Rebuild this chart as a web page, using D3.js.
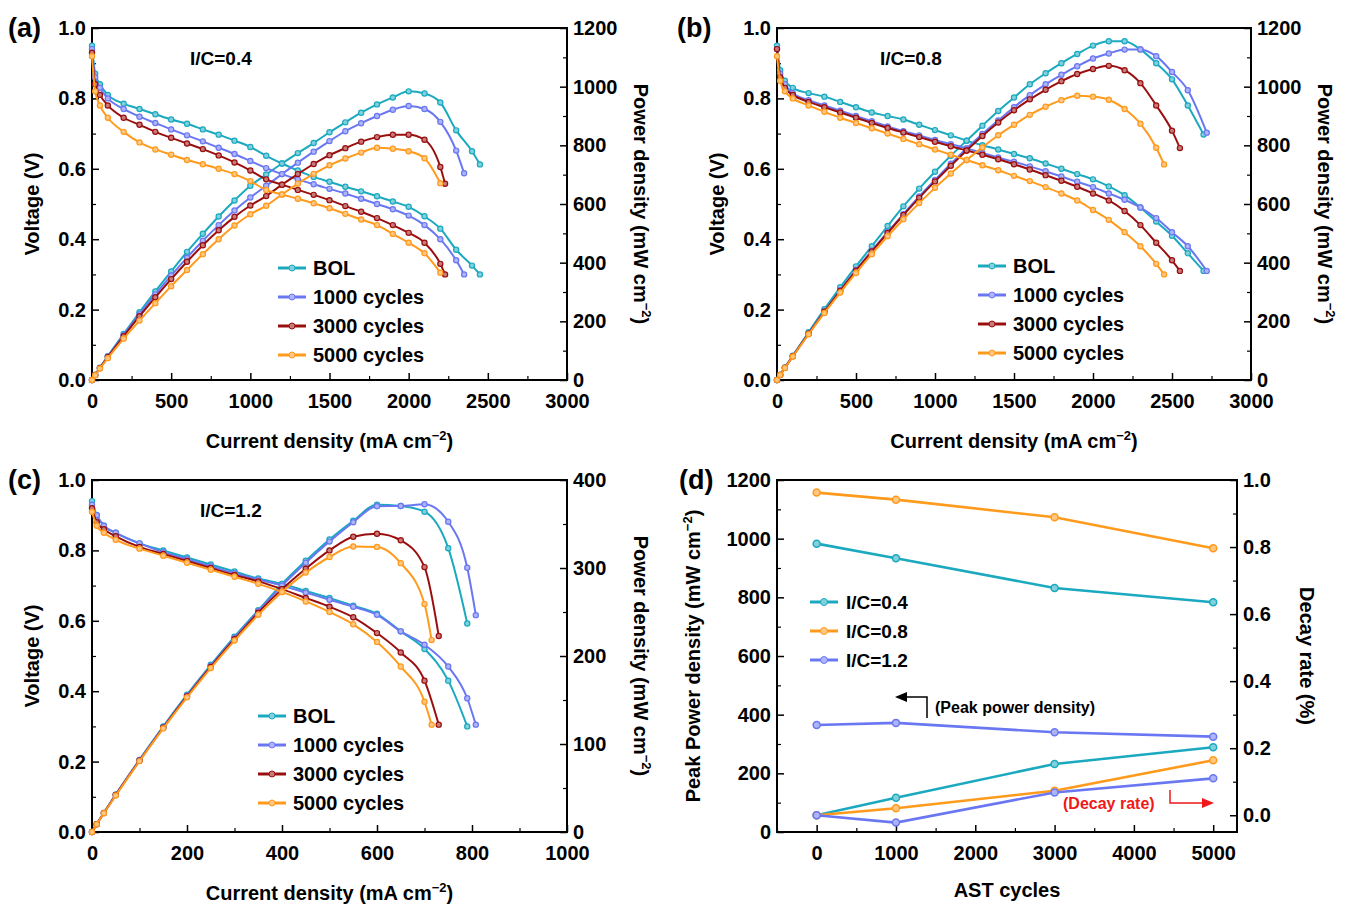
<!DOCTYPE html>
<html><head><meta charset="utf-8">
<script src="https://cdn.jsdelivr.net/npm/d3@7"></script>
<style>body{margin:0;background:#fff}svg{font-family:"Liberation Sans",Arial,sans-serif;font-weight:bold}</style>
</head><body><svg id="fig" width="1349" height="915"></svg>
<script>
// ---- data: [current density mA cm-2, voltage V]; power = I*V
var series = ["BOL", "1000 cycles", "3000 cycles", "5000 cycles"]
var colors = ["#1aa9bf", "#6a77f2", "#9a0e0e", "#ff9a1c"]

var polA = [
  [[0,0.95],[20,0.87],[50,0.84],[100,0.81],[200,0.785],[300,0.77],[400,0.755],[500,0.74],[600,0.728],[700,0.712],[800,0.697],[900,0.68],[1000,0.662],[1100,0.637],[1200,0.615],[1300,0.595],[1400,0.577],[1500,0.563],[1600,0.549],[1700,0.536],[1800,0.522],[1900,0.507],[2000,0.492],[2100,0.465],[2200,0.43],[2300,0.37],[2400,0.325],[2450,0.30]],
  [[0,0.94],[20,0.86],[50,0.83],[100,0.8],[200,0.77],[300,0.748],[400,0.73],[500,0.712],[600,0.695],[700,0.678],[800,0.66],[900,0.642],[1000,0.622],[1100,0.602],[1200,0.585],[1300,0.57],[1400,0.556],[1500,0.543],[1600,0.53],[1700,0.515],[1800,0.5],[1900,0.485],[2000,0.467],[2100,0.44],[2200,0.4],[2300,0.34],[2350,0.30]],
  [[0,0.93],[20,0.84],[50,0.81],[100,0.78],[200,0.745],[300,0.725],[400,0.705],[500,0.688],[600,0.672],[700,0.656],[800,0.638],[900,0.618],[1000,0.595],[1100,0.57],[1200,0.555],[1300,0.54],[1400,0.526],[1500,0.511],[1600,0.494],[1700,0.478],[1800,0.46],[1900,0.44],[2000,0.418],[2100,0.39],[2200,0.33],[2230,0.30]],
  [[0,0.92],[20,0.82],[50,0.78],[100,0.745],[200,0.705],[300,0.675],[400,0.655],[500,0.64],[600,0.625],[700,0.613],[800,0.6],[900,0.585],[1000,0.565],[1100,0.54],[1200,0.527],[1300,0.515],[1400,0.502],[1500,0.488],[1600,0.472],[1700,0.456],[1800,0.44],[1900,0.415],[2000,0.39],[2100,0.36],[2200,0.305]]
]
var polB = [
  [[0,0.95],[20,0.88],[50,0.85],[100,0.83],[200,0.815],[300,0.805],[400,0.79],[500,0.775],[600,0.76],[700,0.75],[800,0.74],[900,0.725],[1000,0.71],[1100,0.695],[1200,0.68],[1300,0.667],[1400,0.655],[1500,0.642],[1600,0.63],[1700,0.615],[1800,0.6],[1900,0.585],[2000,0.57],[2100,0.55],[2200,0.525],[2300,0.49],[2400,0.45],[2500,0.41],[2600,0.36],[2700,0.31]],
  [[0,0.94],[20,0.87],[50,0.84],[100,0.815],[200,0.795],[300,0.78],[400,0.765],[500,0.75],[600,0.735],[700,0.72],[800,0.707],[900,0.695],[1000,0.682],[1100,0.67],[1200,0.658],[1300,0.645],[1400,0.632],[1500,0.62],[1600,0.607],[1700,0.593],[1800,0.578],[1900,0.563],[2000,0.548],[2100,0.53],[2200,0.512],[2300,0.49],[2400,0.46],[2500,0.42],[2600,0.38],[2720,0.31]],
  [[0,0.94],[20,0.86],[50,0.83],[100,0.81],[200,0.79],[300,0.775],[400,0.76],[500,0.745],[600,0.73],[700,0.716],[800,0.703],[900,0.69],[1000,0.677],[1100,0.664],[1200,0.652],[1300,0.64],[1400,0.627],[1500,0.613],[1600,0.598],[1700,0.582],[1800,0.566],[1900,0.549],[2000,0.53],[2100,0.51],[2200,0.48],[2300,0.44],[2400,0.39],[2500,0.34],[2550,0.31]],
  [[0,0.92],[20,0.85],[50,0.82],[100,0.8],[200,0.78],[300,0.762],[400,0.745],[500,0.73],[600,0.715],[700,0.7],[800,0.685],[900,0.67],[1000,0.655],[1100,0.64],[1200,0.625],[1300,0.61],[1400,0.596],[1500,0.58],[1600,0.565],[1700,0.548],[1800,0.53],[1900,0.51],[2000,0.483],[2100,0.455],[2200,0.42],[2300,0.38],[2400,0.33],[2450,0.30]]
]
var polC = [
  [[0,0.94],[10,0.9],[25,0.87],[50,0.85],[100,0.82],[150,0.8],[200,0.78],[250,0.76],[300,0.74],[350,0.72],[400,0.705],[450,0.685],[500,0.665],[550,0.643],[600,0.62],[650,0.57],[700,0.52],[750,0.43],[790,0.30]],
  [[0,0.93],[10,0.9],[25,0.87],[50,0.85],[100,0.82],[150,0.795],[200,0.775],[250,0.755],[300,0.735],[350,0.717],[400,0.7],[450,0.68],[500,0.66],[550,0.64],[600,0.617],[650,0.57],[700,0.532],[750,0.47],[790,0.38],[808,0.305]],
  [[0,0.92],[10,0.88],[25,0.86],[50,0.84],[100,0.81],[150,0.79],[200,0.77],[250,0.75],[300,0.73],[350,0.712],[400,0.69],[450,0.665],[500,0.64],[550,0.61],[600,0.565],[650,0.51],[700,0.43],[730,0.305]],
  [[0,0.91],[10,0.87],[25,0.85],[50,0.83],[100,0.805],[150,0.785],[200,0.765],[250,0.745],[300,0.725],[350,0.705],[400,0.682],[450,0.655],[500,0.625],[550,0.59],[600,0.54],[650,0.47],[700,0.37],[715,0.305]]
]
// panel d
var astCycles = [0, 1000, 3000, 5000]
var icNames = ["I/C=0.4", "I/C=0.8", "I/C=1.2"]
var icColors = ["#1aa9bf", "#ff9a1c", "#6a77f2"]
var peakPower = [[983, 933, 832, 783], [1157, 1133, 1073, 967], [365, 372, 340, 325]]
var decayRate = [[0, 0.052, 0.153, 0.203], [0, 0.021, 0.073, 0.164], [0, -0.022, 0.068, 0.11]]

var svg = d3.select("#fig")

function supLabel(g, text, x, y, rot) {
  var t = g.append("text").attr("font-size", 20).attr("text-anchor", "middle")
    .attr("transform", "translate(" + x + "," + y + ")" + (rot ? " rotate(" + rot + ")" : ""))
  t.append("tspan").text(text)
  t.append("tspan").attr("font-size", 13).attr("dy", -8).text("−2")
  t.append("tspan").attr("dy", 8).text(")")
  return t
}

function frame(o) {
  var g = svg.append("g")
  var x = d3.scaleLinear().domain(o.xd).range([o.x0, o.x1])
  var yl = d3.scaleLinear().domain(o.yld).range([o.y1, o.y0])
  var yr = d3.scaleLinear().domain(o.yrd).range([o.y1, o.y0])
  function ax(gen, minor, tr, pad) {
    var a = g.append("g").attr("transform", tr).call(gen.tickSizeInner(-7).tickSizeOuter(0).tickPadding(pad))
    a.select(".domain").remove()
    a.selectAll("text").attr("font-size", 20).attr("font-weight", "bold").attr("font-family", "Liberation Sans, Arial")
    a.selectAll("line").attr("stroke-width", 1.5)
    g.append("g").attr("transform", tr).call(minor.tickSizeInner(-4).tickSizeOuter(0).tickFormat(""))
      .call(s => { s.select(".domain").remove(); s.selectAll("line").attr("stroke-width", 1.2) })
  }
  ax(d3.axisBottom(x).tickValues(o.xt).tickFormat(o.xf || d3.format("d")), d3.axisBottom(x).tickValues(o.xm), "translate(0," + o.y1 + ")", 14)
  ax(d3.axisLeft(yl).tickValues(o.ylt).tickFormat(o.ylf), d3.axisLeft(yl).tickValues(o.ylm), "translate(" + o.x0 + ",0)", 6)
  ax(d3.axisRight(yr).tickValues(o.yrt).tickFormat(o.yrf), d3.axisRight(yr).tickValues(o.yrm), "translate(" + o.x1 + ",0)", 6)
  g.selectAll(".tick text").attr("fill", "#000")
  g.append("rect").attr("x", o.x0).attr("y", o.y0).attr("width", o.x1 - o.x0).attr("height", o.y1 - o.y0)
    .attr("fill", "none").attr("stroke", "#000").attr("stroke-width", 2)
  g.append("text").attr("x", o.tagX).attr("y", o.y0 + 9).attr("font-size", 27).text(o.tag)
  return {g: g, x: x, yl: yl, yr: yr}
}

function mid(a, b) { return (a + b) / 2 }
function ticksStep(a, b, s) { return d3.range(a, b + s / 2, s) }

function polPanel(o, data) {
  var f = frame(o)
  var g = f.g
  var plot = g.append("g")
  data.forEach((pts, k) => {
    var c = colors[k], light = d3.interpolateRgb(c, "#fff")(0.45)
    var sets = [
      pts.map(d => [f.x(d[0]), f.yl(d[1])]),
      pts.map(d => [f.x(d[0]), f.yr(d[0] * d[1])])
    ]
    sets.forEach(s => {
      plot.append("path").attr("d", d3.line().curve(d3.curveMonotoneX)(s))
        .attr("fill", "none").attr("stroke", c).attr("stroke-width", 2)
      plot.selectAll(null).data(s).enter().append("circle")
        .attr("cx", d => d[0]).attr("cy", d => d[1]).attr("r", 2.6)
        .attr("fill", light).attr("stroke", c).attr("stroke-width", 1.2)
    })
    // legend
    var ly = o.legY + k * 29
    var lg = g.append("g")
    lg.append("line").attr("x1", o.legX).attr("x2", o.legX + 28).attr("y1", ly).attr("y2", ly)
      .attr("stroke", c).attr("stroke-width", 3)
    lg.append("circle").attr("cx", o.legX + 14).attr("cy", ly).attr("r", 3).attr("fill", light).attr("stroke", c)
    lg.append("text").attr("x", o.legX + 35).attr("y", ly + 7).attr("font-size", 20).text(series[k])
  })
  g.append("text").attr("x", o.icX).attr("y", o.y0 + 37).attr("font-size", 19).text(o.ic)
  g.append("text").attr("font-size", 20).attr("text-anchor", "middle")
    .attr("transform", "translate(" + (o.x0 - 53) + "," + mid(o.y0, o.y1) + ") rotate(-90)").text("Voltage (V)")
  supLabel(g, "Power density (mW cm", o.x1 + 67, mid(o.y0, o.y1), 90)
  supLabel(g, "Current density (mA cm", mid(o.x0, o.x1), o.y1 + 68, 0)
}

var vFmt = d3.format(".1f")
var common = {ylt: ticksStep(0, 1, 0.2), ylm: ticksStep(0.1, 0.9, 0.2), ylf: vFmt, yld: [0, 1]}

polPanel(Object.assign({}, common, {tag: "(a)", tagX: 8, x0: 92, x1: 567, y0: 28, y1: 380, xd: [0, 3000], xt: ticksStep(0, 3000, 500), xm: ticksStep(250, 2750, 500),
  yrd: [0, 1200], yrt: ticksStep(0, 1200, 200), yrm: ticksStep(100, 1100, 200), yrf: d3.format("d"),
  legX: 278, legY: 268, ic: "I/C=0.4", icX: 190}), polA)
polPanel(Object.assign({}, common, {tag: "(b)", tagX: 677, x0: 777, x1: 1251, y0: 28, y1: 380, xd: [0, 3000], xt: ticksStep(0, 3000, 500), xm: ticksStep(250, 2750, 500),
  yrd: [0, 1200], yrt: ticksStep(0, 1200, 200), yrm: ticksStep(100, 1100, 200), yrf: d3.format("d"),
  legX: 978, legY: 266, ic: "I/C=0.8", icX: 880}), polB)
polPanel(Object.assign({}, common, {tag: "(c)", tagX: 8, x0: 92, x1: 567, y0: 480, y1: 832, xd: [0, 1000], xt: ticksStep(0, 1000, 200), xm: ticksStep(100, 900, 200),
  yrd: [0, 400], yrt: ticksStep(0, 400, 100), yrm: ticksStep(50, 350, 100), yrf: d3.format("d"),
  legX: 258, legY: 716, ic: "I/C=1.2", icX: 200}), polC)

// ---- panel (d)
var fd = frame({tag: "(d)", tagX: 679, x0: 777, x1: 1237, y0: 480, y1: 832, xd: [-500, 5300], xt: ticksStep(0, 5000, 1000), xm: ticksStep(-500, 4500, 1000),
  yld: [0, 1200], ylt: ticksStep(0, 1200, 200), ylm: ticksStep(100, 1100, 200), ylf: d3.format("d"),
  yrd: [-0.05, 1.0], yrt: ticksStep(0, 1, 0.2), yrm: ticksStep(0.1, 0.9, 0.2), yrf: vFmt})
var gd = fd.g
icNames.forEach((n, k) => {
  var c = icColors[k], light = d3.interpolateRgb(c, "#fff")(0.45)
  ;[astCycles.map((a, i) => [fd.x(a), fd.yl(peakPower[k][i])]), astCycles.map((a, i) => [fd.x(a), fd.yr(decayRate[k][i])])].forEach(s => {
    gd.append("path").attr("d", d3.line()(s)).attr("fill", "none").attr("stroke", c).attr("stroke-width", 2.6)
    gd.selectAll(null).data(s).enter().append("circle").attr("cx", d => d[0]).attr("cy", d => d[1]).attr("r", 3.5)
      .attr("fill", light).attr("stroke", c).attr("stroke-width", 1.5)
  })
  var ly = 602 + k * 29
  gd.append("line").attr("x1", 810).attr("x2", 838).attr("y1", ly).attr("y2", ly).attr("stroke", c).attr("stroke-width", 3)
  gd.append("circle").attr("cx", 824).attr("cy", ly).attr("r", 3.5).attr("fill", light).attr("stroke", c)
  gd.append("text").attr("x", 846).attr("y", ly + 7).attr("font-size", 19).text(n)
})
// annotations
gd.append("path").attr("d", "M927,718 V697 H905").attr("fill", "none").attr("stroke", "#000").attr("stroke-width", 1.5)
gd.append("path").attr("d", "M895,697 L907,692 L907,702 Z").attr("fill", "#000")
gd.append("text").attr("x", 935).attr("y", 713).attr("font-size", 16).text("(Peak power density)")
gd.append("text").attr("x", 1063).attr("y", 809).attr("font-size", 16).attr("fill", "#f01818").text("(Decay rate)")
gd.append("path").attr("d", "M1170,790 V803 H1203").attr("fill", "none").attr("stroke", "#f01818").attr("stroke-width", 1.5)
gd.append("path").attr("d", "M1214,803 L1202,798 L1202,808 Z").attr("fill", "#f01818")
supLabel(gd, "Peak Power density (mW cm", 700, 656, -90)
gd.append("text").attr("font-size", 20).attr("text-anchor", "middle")
  .attr("transform", "translate(1300,656) rotate(90)").text("Decay rate (%)")
gd.append("text").attr("x", 1007).attr("y", 897).attr("font-size", 20).attr("text-anchor", "middle").text("AST cycles")
</script></body></html>
